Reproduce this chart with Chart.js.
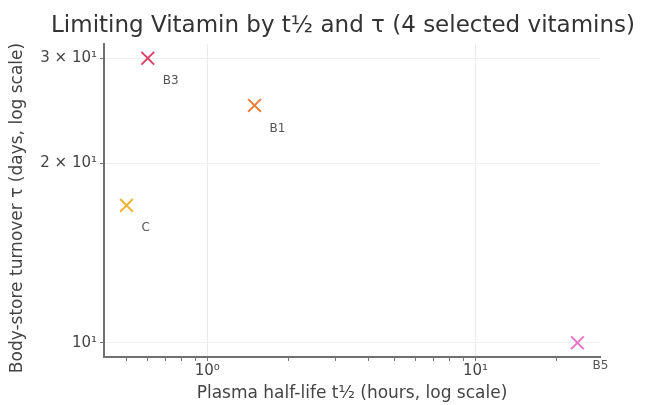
<!DOCTYPE html>
<html>
<head>
<meta charset="utf-8">
<script src="https://cdn.jsdelivr.net/npm/chart.js@4/dist/chart.umd.min.js"></script>
<style>
  html, body { margin: 0; padding: 0; background: #fff; }
  #wrap { width: 649px; height: 405px; }
</style>
</head>
<body>
<div id="wrap"><canvas id="c" width="649" height="405"></canvas></div>
<script>
// Vitamins and their kinetics
const vitamins = ['B3', 'B1', 'C', 'B5'];
const halfLifeHours = [0.6, 1.5, 0.5, 24];
const turnoverDays = [30, 25, 17, 10];
const markerColors = ['#de3f66', '#ea7d3c', '#f3b335', '#e672cc'];

// Tick positions and labels
const xTickValues = [0.5, 0.6, 0.7, 0.8, 0.9, 1, 2, 3, 4, 5, 6, 7, 8, 9, 10, 20];
const xMajorValues = [1, 10];
const xMajorLabels = ['10⁰', '10¹'];
const yTickValues = [10, 20, 30];
const yTickLabels = ['10¹', '2 × 10¹', '3 × 10¹'];

const titleText = 'Limiting Vitamin by t½ and τ (4 selected vitamins)';
const yTitleText = 'Body-store turnover τ (days, log scale)';
const FONT = "'DejaVu Sans', sans-serif";

// 5% padding in log space around the data extent
function logLimits(vals) {
  const lo = Math.log10(Math.min(...vals));
  const hi = Math.log10(Math.max(...vals));
  const pad = (hi - lo) * 0.05;
  return [Math.pow(10, lo - pad), Math.pow(10, hi + pad)];
}
const [xMin, xMax] = logLimits(halfLifeHours);
const [yMin, yMax] = logLimits(turnoverDays);

const points = halfLifeHours.map((x, i) => ({ x: x, y: turnoverDays[i] }));

// Point names, the chart title and the vertical axis title
const annotate = {
  id: 'annotate',
  afterDatasetsDraw(chart) {
    const ctx = chart.ctx;
    const xs = chart.scales.x, ys = chart.scales.y;
    ctx.save();
    ctx.font = '12px ' + FONT;
    ctx.fillStyle = '#555';
    ctx.textAlign = 'left';
    ctx.textBaseline = 'middle';
    vitamins.forEach((name, i) => {
      const px = xs.getPixelForValue(halfLifeHours[i]);
      const py = ys.getPixelForValue(turnoverDays[i]);
      ctx.fillText(name, px + 15, py + 23);
    });
    ctx.font = '23px ' + FONT;
    ctx.fillStyle = '#333';
    ctx.textAlign = 'center';
    ctx.textBaseline = 'alphabetic';
    ctx.fillText(titleText, 343, 32);

    ctx.translate(18, 208);
    ctx.rotate(-Math.PI / 2);
    ctx.font = '17px ' + FONT;
    ctx.fillStyle = '#444';
    ctx.textBaseline = 'middle';
    ctx.fillText(yTitleText, 0, 0);
    ctx.restore();
  }
};

new Chart(document.getElementById('c'), {
  type: 'scatter',
  data: {
    datasets: [{
      data: points,
      pointStyle: 'crossRot',
      pointRadius: 9,
      pointHoverRadius: 9,
      pointBorderWidth: 2,
      pointBorderColor: markerColors,
      pointBackgroundColor: markerColors
    }]
  },
  options: {
    responsive: false,
    animation: false,
    layout: { padding: { top: 44, right: 49, left: 0, bottom: 0 } },
    plugins: { legend: { display: false }, tooltip: { enabled: false } },
    scales: {
      x: {
        type: 'logarithmic',
        bounds: 'data',
        min: xMin,
        max: xMax,
        afterBuildTicks(scale) {
          scale.ticks = xTickValues.map(v => ({ value: v }));
        },
        afterFit(scale) { scale.height = 48; },
        border: { color: '#707070', width: 2 },
        grid: {
          color: ctx => (ctx.tick && xMajorValues.includes(ctx.tick.value)) ? '#ececec' : 'rgba(0,0,0,0)',
          tickColor: '#777',
          tickLength: 4,
          lineWidth: 1
        },
        ticks: {
          autoSkip: false,
          maxRotation: 0,
          padding: 1,
          color: '#444',
          font: { family: FONT, size: 15 },
          callback: v => {
            const k = xMajorValues.indexOf(v);
            return k >= 0 ? xMajorLabels[k] : '';
          }
        },
        title: {
          display: true,
          text: 'Plasma half-life t½ (hours, log scale)',
          color: '#444',
          font: { family: FONT, size: 17 },
          padding: { top: 0, bottom: 1 }
        }
      },
      y: {
        type: 'logarithmic',
        bounds: 'data',
        min: yMin,
        max: yMax,
        afterBuildTicks(scale) {
          scale.ticks = yTickValues.map(v => ({ value: v }));
        },
        afterFit(scale) { scale.width = 104; },
        border: { color: '#707070', width: 2 },
        grid: {
          color: '#f0f0f0',
          tickColor: '#777',
          tickLength: 4,
          lineWidth: 1
        },
        ticks: {
          autoSkip: false,
          padding: 3,
          color: '#444',
          font: { family: FONT, size: 15 },
          callback: v => {
            const k = yTickValues.indexOf(v);
            return k >= 0 ? yTickLabels[k] : '';
          }
        },
        title: { display: false }
      }
    }
  },
  plugins: [annotate]
});
</script>
</body>
</html>
